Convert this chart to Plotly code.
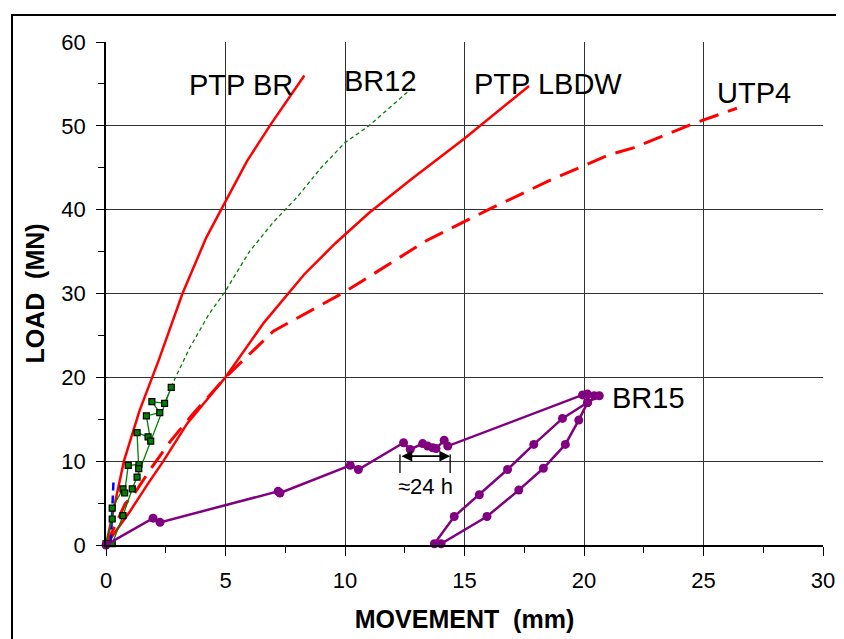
import plotly.graph_objects as go

# ---- data (movement in mm, load in MN) ----
ptp_br_x = [0, 0.75, 1.4, 2.2, 3.2, 4.2, 5.9, 6.9, 8.3]
ptp_br_y = [0, 10, 16, 22, 30, 36.7, 45.8, 50.2, 56]

br12_x = [2.72, 3.5, 4.3, 5.0, 6.0, 7.0, 8.0, 9.0, 10.0, 11.0, 12.0, 12.8]
br12_y = [18.85, 23.5, 27.5, 30.3, 35.0, 38.5, 41.5, 45.0, 48.0, 50.0, 52.5, 54.5]

br12_test_x = [0, 0.26, 0.26, 0.71, 0.78, 0.93, 1.38, 1.37, 1.30, 1.76, 1.87,
               1.69, 2.25, 1.92, 2.45, 2.73, 1.30, 1.10, 0.71, 0.26]
br12_test_y = [0.15, 3.1, 4.4, 6.7, 6.2, 9.5, 9.6, 9.1, 13.4, 12.9, 12.4,
               15.4, 15.8, 17.1, 16.9, 18.8, 8.1, 6.7, 3.5, 0.15]

ptp_lbdw_x = [0, 1.0, 1.8, 2.4, 3.4, 5.0, 6.6, 8.3, 9.6, 11.0, 12.8, 15.0, 17.7]
ptp_lbdw_y = [0, 4.0, 7.5, 10.0, 14.5, 20.0, 26.5, 32.3, 36.0, 39.6, 43.7, 48.5, 54.75]

utp4_x = [0, 0.8, 1.2, 1.9, 2.7, 3.6, 5.0, 7.0, 10.0, 13.4, 16.0, 18.5, 21.0, 22.1, 24.6, 26.4]
utp4_y = [0, 4.9, 6.2, 9.2, 12.4, 15.5, 20.0, 25.5, 30.2, 36.3, 40.0, 43.4, 46.5, 47.4, 50.3, 52.1]

blue_x = [0.2, 0.32]
blue_y = [0.3, 8.0]

br15_x = [0, 1.97, 2.26, 7.2, 7.28, 10.22, 10.56, 12.45, 12.73, 13.25, 13.46, 13.67, 13.81,
          14.15, 14.30, 19.94, 20.15, 20.43, 20.64, 20.15, 19.78, 19.22, 18.3, 17.27, 15.94,
          14.02, 13.74, 14.57, 15.62, 16.8, 17.9, 19.1, 20.15]
br15_y = [0, 3.2, 2.7, 6.4, 6.2, 9.5, 9.0, 12.2, 11.4, 12.1, 11.8, 11.6, 11.5,
          12.5, 11.8, 17.9, 18.0, 17.8, 17.8, 17.0, 14.9, 12.0, 9.15, 6.55, 3.4,
          0.15, 0.15, 3.4, 6.0, 9.0, 12.0, 15.1, 17.0]

labels = ["PTP BR", "BR12", "PTP LBDW", "UTP4", "BR15"]
label_x = [5.65, 11.48, 18.5, 27.1, 22.7]
label_y = [54.9, 55.4, 55.05, 53.9, 17.48]

hold_x = [12.3, 14.4]
hold_y = [10.6, 8.6, 10.8]
hold_text = "≈24 h"

x_ticks = [0, 5, 10, 15, 20, 25, 30]
y_ticks = [0, 10, 20, 30, 40, 50, 60]

FONT = "Liberation Sans, Arial, sans-serif"

fig = go.Figure()

fig.add_trace(go.Scatter(x=ptp_lbdw_x, y=ptp_lbdw_y, mode="lines",
                         line=dict(color="#ff0000", width=2.5), cliponaxis=False))
fig.add_trace(go.Scatter(x=utp4_x, y=utp4_y, mode="lines",
                         line=dict(color="#ff0000", width=3, dash="20px,10px"), cliponaxis=False))
fig.add_trace(go.Scatter(x=br12_x, y=br12_y, mode="lines",
                         line=dict(color="#008000", width=1.3, dash="4px,3px"), cliponaxis=False))
fig.add_trace(go.Scatter(x=ptp_br_x, y=ptp_br_y, mode="lines",
                         line=dict(color="#ff0000", width=2.5), cliponaxis=False))
fig.add_trace(go.Scatter(x=blue_x, y=blue_y, mode="lines",
                         line=dict(color="#0000ff", width=2.5, dash="8px,5px"), cliponaxis=False))
fig.add_trace(go.Scatter(x=br12_test_x, y=br12_test_y, mode="lines+markers",
                         line=dict(color="#008000", width=1.3),
                         marker=dict(symbol="square", size=6, color="#008000",
                                     line=dict(color="black", width=1.2)),
                         cliponaxis=False))
fig.add_trace(go.Scatter(x=br15_x, y=br15_y, mode="lines+markers",
                         line=dict(color="#800080", width=2.5),
                         marker=dict(symbol="circle", size=9, color="#800080"),
                         cliponaxis=False))

for t, lx, ly in zip(labels, label_x, label_y):
    fig.add_annotation(x=lx, y=ly, text=t, showarrow=False,
                       font=dict(family=FONT, size=29, color="black"))

# hold duration marker
fig.add_annotation(x=hold_x[1], y=hold_y[0], ax=hold_x[0], ay=hold_y[0],
                   xref="x", yref="y", axref="x", ayref="y", text="",
                   showarrow=True, arrowhead=2, arrowside="end+start",
                   arrowsize=1.2, arrowwidth=1.8, arrowcolor="black")
for hx in hold_x:
    fig.add_shape(type="line", x0=hx, x1=hx, y0=hold_y[1], y1=hold_y[2],
                  xref="x", yref="y", line=dict(color="black", width=1.3))
fig.add_annotation(x=(hold_x[0] + hold_x[1]) / 2, y=6.94, text=hold_text, showarrow=False,
                   font=dict(family=FONT, size=22, color="black"))

# outer chart frame
fig.add_shape(type="rect", xref="paper", yref="paper",
              x0=-0.1311, x1=1.06, y0=-0.22, y1=1.0537,
              line=dict(color="black", width=2), layer="below")

fig.update_xaxes(range=[0, 30], tickvals=x_ticks, ticks="outside", ticklen=9,
                 tickwidth=1.3, tickcolor="black",
                 minor=dict(dtick=2.5, ticks="outside", ticklen=6, tickwidth=1.3,
                            tickcolor="black", showgrid=False),
                 showgrid=True, gridcolor="#333333", gridwidth=1.2,
                 showline=True, linecolor="black", linewidth=1.5,
                 zeroline=False, ticklabelstandoff=6, automargin=False,
                 tickfont=dict(family=FONT, size=22, color="black"),
                 title=dict(text="<b>MOVEMENT  (mm)</b>", standoff=18,
                            font=dict(family=FONT, size=25, color="black")))
fig.update_yaxes(range=[0, 60], tickvals=y_ticks, ticks="outside", ticklen=8,
                 tickwidth=1.3, tickcolor="black",
                 minor=dict(dtick=5, ticks="outside", ticklen=6, tickwidth=1.3,
                            tickcolor="black", showgrid=False),
                 showgrid=True, gridcolor="#333333", gridwidth=1.2,
                 showline=True, linecolor="black", linewidth=1.5,
                 zeroline=False, ticklabelstandoff=6, automargin=False,
                 tickfont=dict(family=FONT, size=22, color="black"),
                 title=dict(text="<b>LOAD  (MN)</b>", standoff=10,
                            font=dict(family=FONT, size=25, color="black")))

fig.update_layout(width=844, height=639, showlegend=False,
                  margin=dict(l=98, r=29, t=34, b=102),
                  paper_bgcolor="white", plot_bgcolor="white",
                  font=dict(family=FONT))

fig.write_html("out.html")
